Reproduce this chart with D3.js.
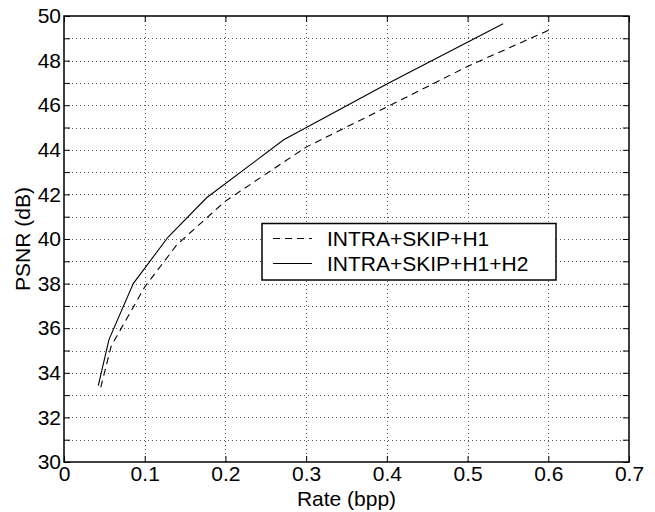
<!DOCTYPE html>
<html>
<head>
<meta charset="utf-8">
<script src="https://cdn.jsdelivr.net/npm/d3@7"></script>
<style>
  body { margin: 0; background: #fff; }
  text { font-family: "Liberation Sans", Arial, sans-serif; fill: #000; }
</style>
</head>
<body>
<div class="chart"></div>
<script>
/* Data */
const seriesNames = ["INTRA+SKIP+H1", "INTRA+SKIP+H1+H2"];
const rateH1 = [0.0455, 0.0585, 0.1, 0.14, 0.2, 0.3, 0.4, 0.5, 0.606];
const psnrH1 = [33.35, 35.2, 37.85, 39.75, 41.7, 44.12, 45.92, 47.74, 49.45];
const rateH1H2 = [0.0425, 0.0557, 0.0858, 0.129, 0.1767, 0.2722, 0.4, 0.544];
const psnrH1H2 = [33.43, 35.49, 38.0, 40.09, 41.85, 44.45, 46.95, 49.65];
const xTicks = [0, 0.1, 0.2, 0.3, 0.4, 0.5, 0.6, 0.7];
const yTicks = [30, 31, 32, 33, 34, 35, 36, 37, 38, 39, 40, 41, 42, 43, 44, 45, 46, 47, 48, 49, 50];

const w = 655;
const h = 512;
const margin = { left: 64, right: 26, top: 16, bottom: 50 };
const fontSize = "21px";

const xScale = d3.scaleLinear().domain([0, 0.7]).range([margin.left, w - margin.right]);
const yScale = d3.scaleLinear().domain([30, 50]).range([h - margin.bottom, margin.top]);

const svg = d3.select(".chart").append("svg")
  .attr("width", w)
  .attr("height", h);

/* Grid lines */
const grid = svg.append("g").attr("stroke", "#555").attr("stroke-width", 1)
  .attr("stroke-dasharray", "1,3");
grid.selectAll(".gx").data(xTicks.slice(1, -1)).enter().append("line")
  .attr("x1", d => Math.round(xScale(d)) + 0.5).attr("x2", d => Math.round(xScale(d)) + 0.5)
  .attr("y1", yScale(30)).attr("y2", yScale(50));
grid.selectAll(".gy").data(yTicks.slice(1, -1)).enter().append("line")
  .attr("y1", d => Math.round(yScale(d)) + 0.5).attr("y2", d => Math.round(yScale(d)) + 0.5)
  .attr("x1", xScale(0)).attr("x2", xScale(0.7));

/* Axes, ticks inward */
const tickLen = 6;
const fmtY = d => (d % 2 === 0 ? d : "");
const axes = [
  svg.append("g").attr("transform", `translate(0,${yScale(30)})`)
    .call(d3.axisBottom(xScale).tickValues(xTicks).tickSize(-tickLen).tickPadding(4).tickFormat(d3.format("~g"))),
  svg.append("g").attr("transform", `translate(0,${yScale(50)})`)
    .call(d3.axisTop(xScale).tickValues(xTicks).tickSize(-tickLen).tickFormat("")),
  svg.append("g").attr("transform", `translate(${xScale(0)},0)`)
    .call(d3.axisLeft(yScale).tickValues(yTicks).tickSize(-tickLen).tickPadding(3).tickFormat(fmtY)),
  svg.append("g").attr("transform", `translate(${xScale(0.7)},0)`)
    .call(d3.axisRight(yScale).tickValues(yTicks).tickSize(-tickLen).tickFormat(""))
];
axes.forEach(a => {
  a.select(".domain").remove();
  a.selectAll("line").attr("stroke", "#000");
  a.selectAll("text").style("font-size", fontSize).style("font-family", "'Liberation Sans', Arial, sans-serif");
});

svg.append("rect")
  .attr("x", xScale(0)).attr("y", yScale(50))
  .attr("width", xScale(0.7) - xScale(0)).attr("height", yScale(30) - yScale(50))
  .attr("fill", "none").attr("stroke", "#000").attr("stroke-width", 1.5);

/* Lines */
const line = d3.line().x(d => xScale(d[0])).y(d => yScale(d[1]));
const dataH1 = rateH1.map((r, i) => [r, psnrH1[i]]);
const dataH1H2 = rateH1H2.map((r, i) => [r, psnrH1H2[i]]);

svg.append("path").datum(dataH1).attr("d", line)
  .attr("fill", "none").attr("stroke", "#000").attr("stroke-width", 1.1)
  .attr("stroke-dasharray", "7,5");
svg.append("path").datum(dataH1H2).attr("d", line)
  .attr("fill", "none").attr("stroke", "#000").attr("stroke-width", 1.1);

/* Axis labels */
svg.append("text").attr("x", (xScale(0) + xScale(0.7)) / 2).attr("y", 506)
  .attr("text-anchor", "middle").style("font-size", fontSize).text("Rate (bpp)");
svg.append("text").attr("transform", `translate(30,${(yScale(30) + yScale(50)) / 2}) rotate(-90)`)
  .attr("text-anchor", "middle").style("font-size", fontSize).text("PSNR (dB)");

/* Legend */
const lg = svg.append("g");
lg.append("rect").attr("x", 262).attr("y", 223.5).attr("width", 294).attr("height", 56.5)
  .attr("fill", "#fff").attr("stroke", "#000").attr("stroke-width", 1.5);
seriesNames.forEach((name, i) => {
  const yy = 238.5 + i * 25;
  lg.append("line").attr("x1", 273).attr("x2", 312).attr("y1", yy).attr("y2", yy)
    .attr("stroke", "#000").attr("stroke-width", 1.1)
    .attr("stroke-dasharray", i === 0 ? "7,5" : null);
  lg.append("text").attr("x", 327).attr("y", yy).attr("dy", "0.36em")
    .style("font-size", fontSize).text(name);
});
</script>
</body>
</html>
